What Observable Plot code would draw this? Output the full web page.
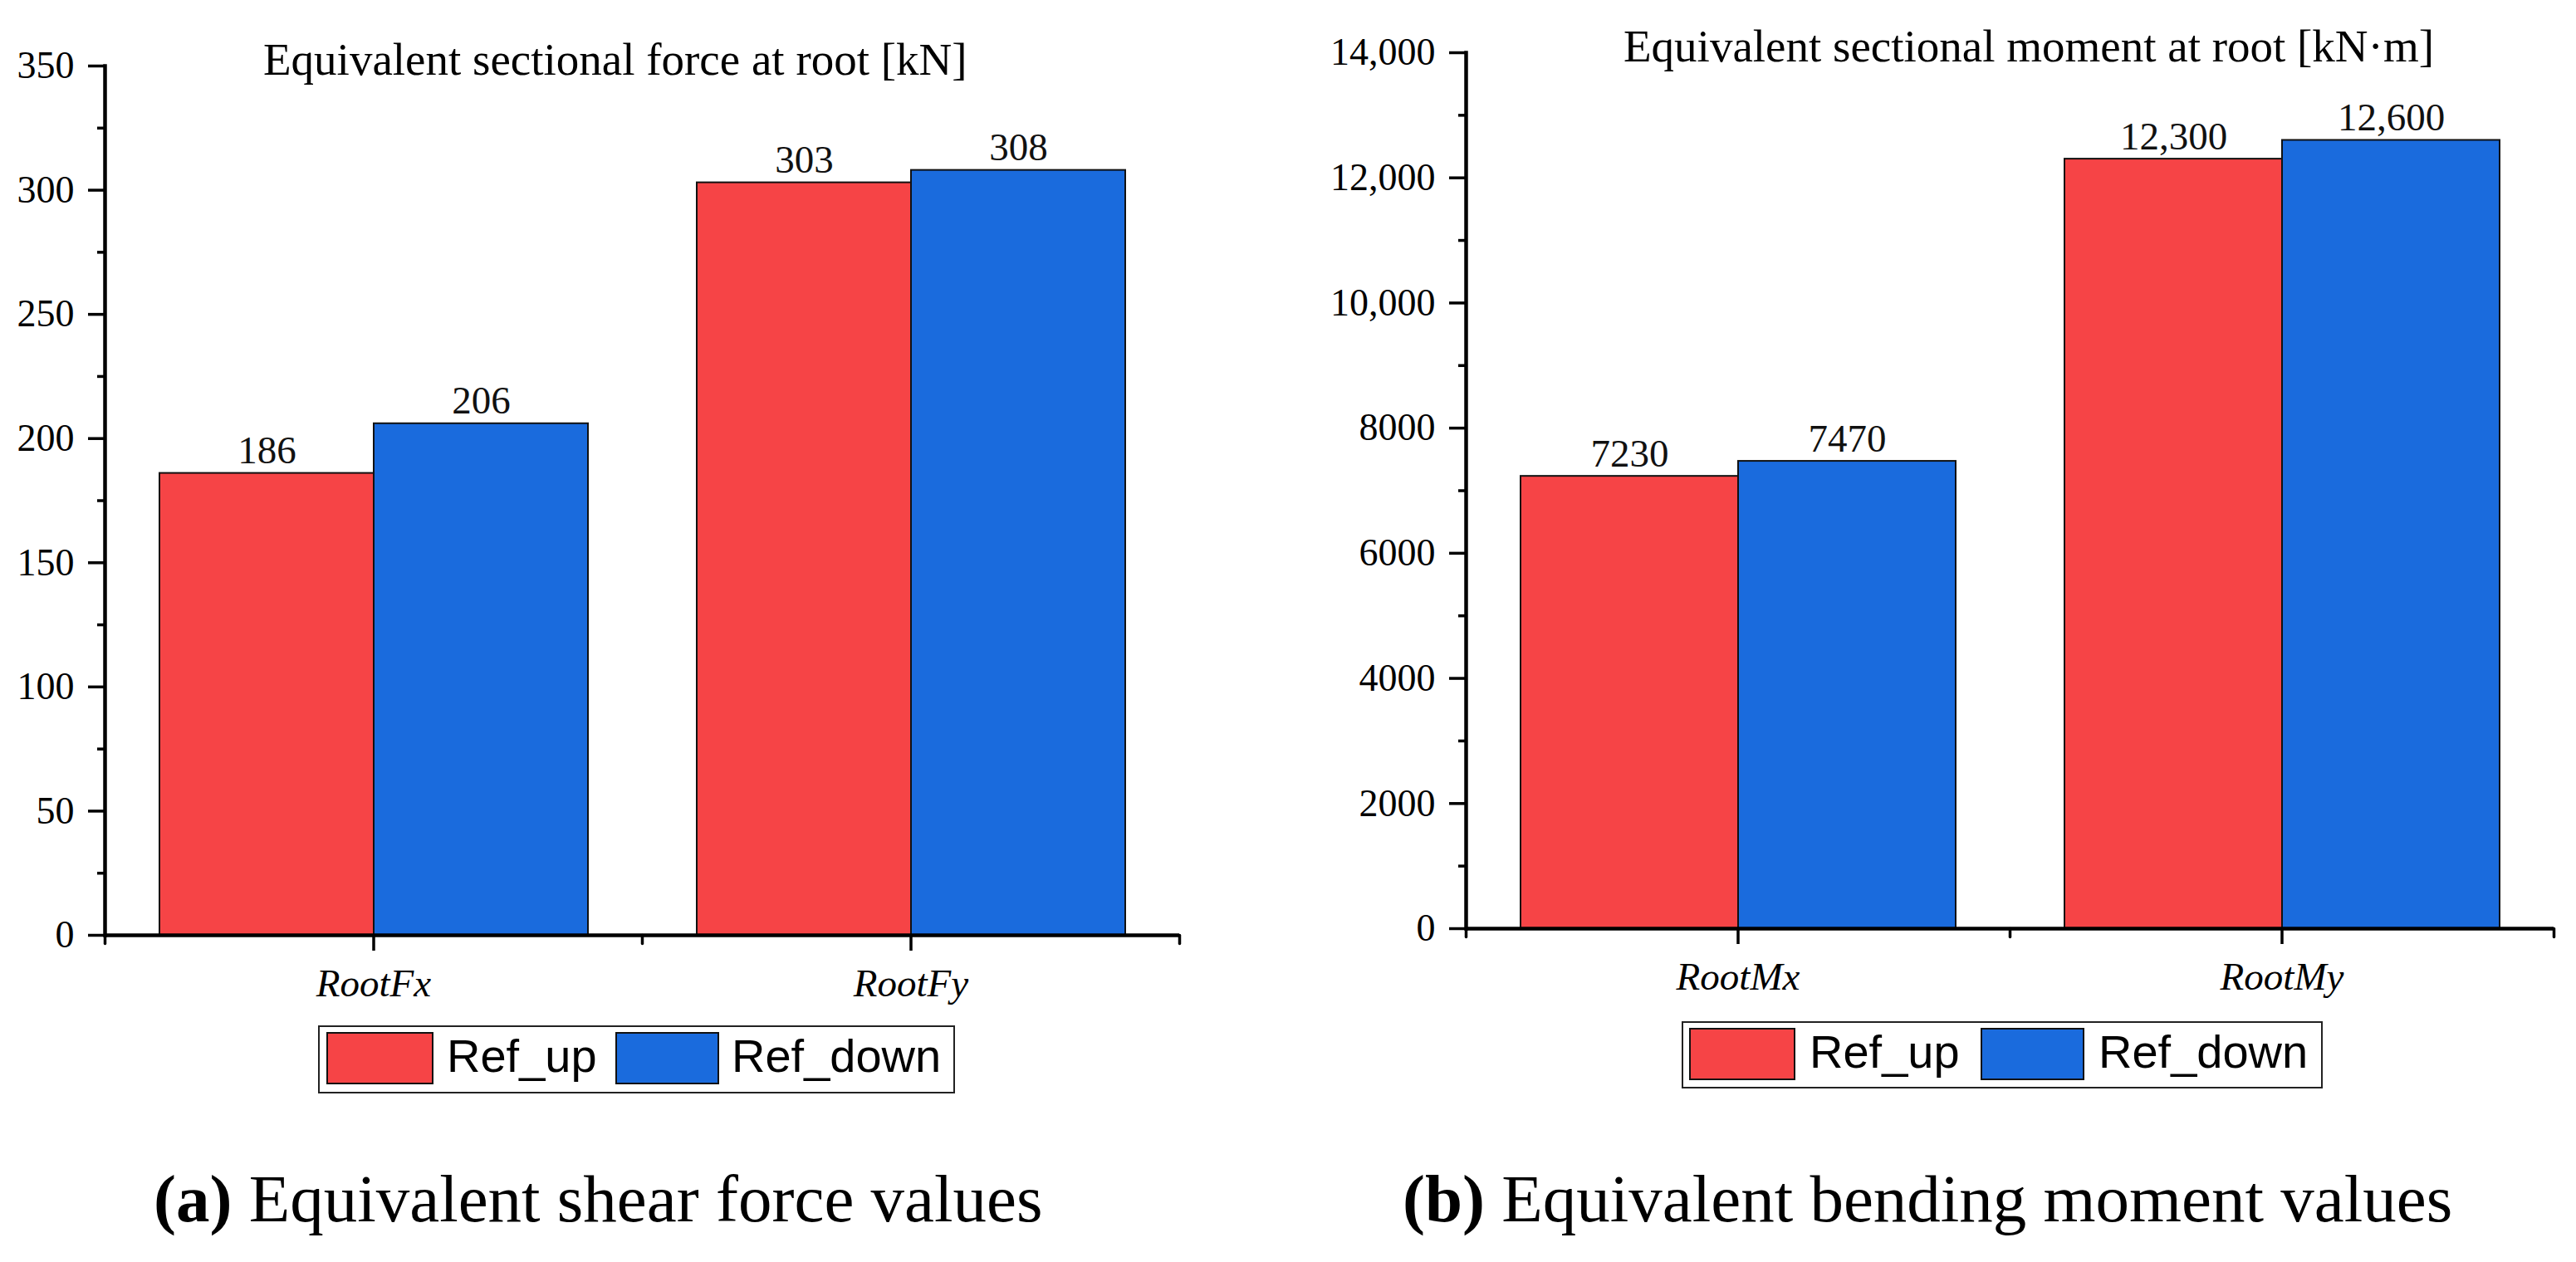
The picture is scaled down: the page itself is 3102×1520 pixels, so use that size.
<!DOCTYPE html>
<html>
<head>
<meta charset="utf-8">
<script src="https://cdn.jsdelivr.net/npm/d3@7"></script>
<script src="https://cdn.jsdelivr.net/npm/@observablehq/plot@0.6"></script>
<style>
  body { margin: 0; background: #fff; }
  #root { position: relative; width: 3102px; height: 1520px; overflow: hidden; background: #fff; }
  .abs { position: absolute; white-space: nowrap; line-height: 1; color: #000; }
  .serif { font-family: "Liberation Serif", "Times New Roman", serif; }
  .sans { font-family: "Liberation Sans", Arial, sans-serif; }
  .box { position: absolute; box-sizing: border-box; }
</style>
</head>
<body>
<div id="root"></div>
<script>
// ---------------- data ----------------
const seriesNames = ["Ref_up", "Ref_down"];
const seriesColors = ["#F64446", "#1A6BDD"];

const forceCategories = ["RootFx", "RootFy"];
const forceUp = [186, 303];
const forceDown = [206, 308];
const forceTicks = [0, 50, 100, 150, 200, 250, 300, 350];
const forceTickLabels = ["0", "50", "100", "150", "200", "250", "300", "350"];
const forceMinorTicks = [25, 75, 125, 175, 225, 275, 325];

const momentCategories = ["RootMx", "RootMy"];
const momentUp = [7230, 12300];
const momentDown = [7470, 12600];
const momentTicks = [0, 2000, 4000, 6000, 8000, 10000, 12000, 14000];
const momentTickLabels = ["0", "2000", "4000", "6000", "8000", "10,000", "12,000", "14,000"];
const momentMinorTicks = [1000, 3000, 5000, 7000, 9000, 11000, 13000];

const titles = ["Equivalent sectional force at root [kN]", "Equivalent sectional moment at root [kN\u00B7m]"];
const captions = [["(a)", " Equivalent shear force values"], ["(b)", " Equivalent bending moment values"]];

// ---------------- helpers ----------------
const SERIF = '"Liberation Serif", "Times New Roman", serif';
const fmtValue = v => v >= 10000 ? d3.format(",")(v) : String(v);
const tickShape = { draw(context, l) { context.moveTo(0, 0); context.lineTo(0, -l); } };

function toRows(cats, up, down) {
  return cats.flatMap((c, i) => [
    { cat: c, series: seriesNames[0], value: up[i] },
    { cat: c, series: seriesNames[1], value: down[i] }
  ]);
}

function makeChart(o) {
  const rows = toRows(o.cats, o.up, o.down);
  return Plot.plot({
    width: o.width, height: o.height,
    marginLeft: o.ml, marginRight: o.mr, marginTop: o.mt, marginBottom: o.mb,
    style: { fontFamily: SERIF, fontSize: "46px", color: "#000", background: "transparent", overflow: "visible" },
    fx: { domain: o.cats, padding: 0, axis: null, label: null },
    x: { domain: seriesNames, paddingInner: 0, paddingOuter: 0.25, axis: null, label: null },
    y: { domain: [0, o.ticks[o.ticks.length - 1]], axis: null, label: null },
    color: { domain: seriesNames, range: seriesColors },
    marks: [
      Plot.barY(rows, { fx: "cat", x: "series", y: "value", fill: "series", stroke: "#111", strokeWidth: 2 }),
      Plot.text(rows, { fx: "cat", x: "series", y: "value", text: d => fmtValue(d.value), dy: -12, lineAnchor: "bottom", fontSize: 47, fill: "#111" }),
      Plot.ruleY([0], { stroke: "#000", strokeWidth: 4.5 }),
      Plot.frame({ anchor: "left", facetAnchor: "left", stroke: "#000", strokeWidth: 4.5 }),
      Plot.axisY({ ticks: o.minor, tickSize: 9, tickFormat: () => "", strokeWidth: 3.5, label: null }),
      Plot.axisY({ ticks: o.ticks, tickSize: 20, tickPadding: 17, tickFormat: d => o.labels[o.ticks.indexOf(d)], fontSize: 46, strokeWidth: 3.5, label: null }),
      Plot.axisFx({ anchor: "bottom", tickSize: 19, tickPadding: 21, fontSize: 47, fontStyle: "italic", strokeWidth: 3.5, label: null }),
      Plot.vector([0], { frameAnchor: "bottom-left", rotate: 180, length: 10, anchor: "start", shape: tickShape, stroke: "#000", strokeWidth: 3.5 }),
      Plot.vector([0], { frameAnchor: "bottom-right", facetAnchor: "right", rotate: 180, length: 10, anchor: "start", shape: tickShape, stroke: "#000", strokeWidth: 3.5 })
    ]
  });
}

const root = document.getElementById("root");
function place(el, left, top, width) {
  const d = document.createElement("div");
  d.style.position = "absolute"; d.style.left = left + "px"; d.style.top = top + "px";
  if (width) d.style.width = width + "px";
  d.appendChild(el); root.appendChild(d); return d;
}
function text(str, cls, left, baseline, size, ascentRatio, bold) {
  const d = document.createElement("div");
  d.className = "abs " + cls;
  d.style.left = left + "px";
  d.style.top = (baseline - ascentRatio * size) + "px";
  d.style.fontSize = size + "px";
  if (bold) d.style.fontWeight = "bold";
  d.textContent = str;
  root.appendChild(d); return d;
}
function rect(left, top, w, h, fill, border) {
  const d = document.createElement("div");
  d.className = "box";
  Object.assign(d.style, { left: left + "px", top: top + "px", width: w + "px", height: h + "px", background: fill, border: border });
  root.appendChild(d); return d;
}

// ---------------- charts ----------------
place(makeChart({ cats: forceCategories, up: forceUp, down: forceDown, ticks: forceTicks, labels: forceTickLabels, minor: forceMinorTicks,
  width: 1450, height: 1220, ml: 126, mr: 30, mt: 79, mb: 94 }), 0, 0, 1450);
place(makeChart({ cats: momentCategories, up: momentUp, down: momentDown, ticks: momentTicks, labels: momentTickLabels, minor: momentMinorTicks,
  width: 1502, height: 1220, ml: 165, mr: 27, mt: 63, mb: 102 }), 1600, 0, 1502);

// ---------------- titles ----------------
const SA = 0.8375, SSA = 0.8465;
text(titles[0], "serif", 317, 90, 55, SA);
text(titles[1], "serif", 1955, 74, 55, SA);

// ---------------- legends ----------------
function legend(x0, y0, x1, y1, sw, tx) {
  rect(x0, y0, x1 - x0, y1 - y0, "#fff", "2px solid #222");
  rect(sw[0][0], y0 + 8, sw[0][1] - sw[0][0], 63, seriesColors[0], "2px solid #111");
  rect(sw[1][0], y0 + 8, sw[1][1] - sw[1][0], 63, seriesColors[1], "2px solid #111");
  text(seriesNames[0], "sans", tx[0], y0 + 56, 56, SSA);
  text(seriesNames[1], "sans", tx[1], y0 + 56, 56, SSA);
}
legend(383, 1235, 1150, 1317, [[393, 522], [741, 866]], [538, 881]);
legend(2025, 1230, 2797, 1311, [[2034, 2162], [2385, 2510]], [2179, 2527]);

// ---------------- captions ----------------
function caption(c, left) {
  const d = text("", "serif", left, 1472, 81, SA);
  const b = document.createElement("b"); b.textContent = c[0];
  d.appendChild(b); d.appendChild(document.createTextNode(c[1]));
}
caption(captions[0], 185);
caption(captions[1], 1689);
</script>
</body>
</html>
